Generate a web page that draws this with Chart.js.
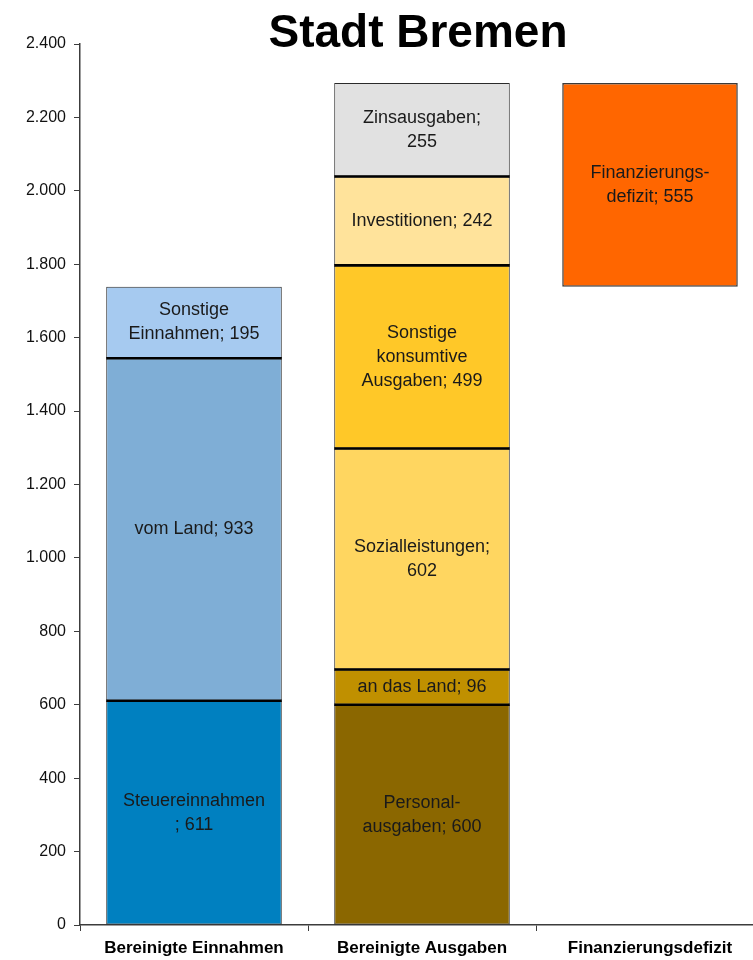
<!DOCTYPE html>
<html lang="de">
<head>
<meta charset="utf-8">
<title>Stadt Bremen</title>
<script src="https://cdn.jsdelivr.net/npm/chart.js@4.4.1/dist/chart.umd.min.js"></script>
<style>
  html, body { margin: 0; padding: 0; background: #fff; }
  #wrap { position: relative; width: 753px; height: 960px; overflow: hidden; }
  #title {
    position: absolute; left: 0; width: 836px; top: 4px;
    text-align: center; font: bold 46px "Liberation Sans", Arial, sans-serif; color: #000;
  }
</style>
</head>
<body>
<div id="wrap">
  <canvas id="chart" width="765" height="960"></canvas>
  <div id="title">Stadt Bremen</div>
</div>
<script>
// =============================
// Data
// =============================
const categories = ["Bereinigte Einnahmen", "Bereinigte Ausgaben", "Finanzierungsdefizit"];

const einnahmenValues = [611, 933, 195];
const einnahmenLabels = ["Steuereinnahmen\n; {v}", "vom Land; {v}", "Sonstige\nEinnahmen; {v}"];
const einnahmenColors = ["#0080c0", "#7faed6", "#a6caf0"];

const ausgabenValues = [600, 96, 602, 499, 242, 255];
const ausgabenLabels = [
  "Personal-\nausgaben; {v}",
  "an das Land; {v}",
  "Sozialleistungen;\n{v}",
  "Sonstige\nkonsumtive\nAusgaben; {v}",
  "Investitionen; {v}",
  "Zinsausgaben;\n{v}"
];
const ausgabenColors = ["#8b6700", "#c09000", "#ffd660", "#ffc828", "#ffe39b", "#e1e1e1"];

const defizitValue = 555;
const defizitLabel = "Finanzierungs-\ndefizit; {v}";
const defizitColor = "#ff6600";

const yTicks = { min: 0, max: 2400, step: 200 };

// =============================
// Datasets
// =============================
function segment(catIndex, value, label, color) {
  const data = categories.map(() => null);
  data[catIndex] = value;
  return {
    data,
    segLabel: label,
    backgroundColor: color,
    borderColor: "#2a2a2a",
    borderWidth: 1,
    borderSkipped: false,
    barPercentage: 0.77,
    categoryPercentage: 1
  };
}

const datasets = [];
einnahmenValues.forEach((v, i) => datasets.push(segment(0, v, einnahmenLabels[i], einnahmenColors[i])));
ausgabenValues.forEach((v, i) => datasets.push(segment(1, v, ausgabenLabels[i], ausgabenColors[i])));

// deficit floats on top of total revenue
const einnahmenTotal = einnahmenValues.reduce((a, b) => a + b, 0);
const defizit = segment(2, [einnahmenTotal, einnahmenTotal + defizitValue], defizitLabel, defizitColor);
defizit.borderColor = "#3a3a3a";
defizit.borderWidth = 1.5;
datasets.push(defizit);

// =============================
// Separators + segment labels
// =============================
const segmentLabels = {
  id: "segmentLabels",
  afterDatasetsDraw(chart) {
    const ctx = chart.ctx;
    const bottom = chart.chartArea.bottom;
    ctx.save();

    // thick black line where two stacked segments meet
    ctx.strokeStyle = "#000";
    ctx.lineWidth = 2.6;
    chart.data.datasets.forEach((ds, di) => {
      chart.getDatasetMeta(di).data.forEach((bar, i) => {
        const raw = ds.data[i];
        if (raw === null || Array.isArray(raw)) return;
        if (Math.abs(bar.base - bottom) < 1) return;
        ctx.beginPath();
        ctx.moveTo(bar.x - bar.width / 2, bar.base);
        ctx.lineTo(bar.x + bar.width / 2, bar.base);
        ctx.stroke();
      });
    });

    ctx.font = '18px "Liberation Sans", Arial, sans-serif';
    ctx.fillStyle = "#1a1a1a";
    ctx.textAlign = "center";
    ctx.textBaseline = "middle";
    chart.data.datasets.forEach((ds, di) => {
      chart.getDatasetMeta(di).data.forEach((bar, i) => {
        const raw = ds.data[i];
        if (raw === null) return;
        const value = Array.isArray(raw) ? raw[1] - raw[0] : raw;
        const lines = ds.segLabel.replace("{v}", value).split("\n");
        const cy = (bar.y + bar.base) / 2;
        const lh = 24;
        lines.forEach((line, k) => {
          ctx.fillText(line, bar.x, cy + (k - (lines.length - 1) / 2) * lh);
        });
      });
    });
    ctx.restore();
  }
};

function formatDe(v) {
  return v.toString().replace(/\B(?=(\d{3})+(?!\d))/g, ".");
}

// =============================
// Chart
// =============================
new Chart(document.getElementById("chart"), {
  type: "bar",
  data: { labels: categories, datasets },
  plugins: [segmentLabels],
  options: {
    responsive: false,
    animation: false,
    layout: { padding: { top: 44, right: 1, left: 0, bottom: 0 } },
    plugins: { legend: { display: false }, tooltip: { enabled: false }, title: { display: false } },
    scales: {
      x: {
        stacked: true,
        afterFit: (s) => { s.height = 35; },
        border: { color: "#3c3c3c", width: 1.5 },
        grid: { drawOnChartArea: false, drawTicks: true, tickLength: 6, color: "#3c3c3c", offset: true },
        ticks: {
          color: "#000",
          padding: 7,
          font: { family: '"Liberation Sans", Arial, sans-serif', size: 17, weight: "bold" }
        }
      },
      y: {
        stacked: true,
        min: yTicks.min,
        max: yTicks.max,
        afterFit: (s) => { s.width = 80; },
        border: { color: "#3c3c3c", width: 1.5 },
        grid: { drawOnChartArea: false, drawTicks: true, tickLength: 6, color: "#3c3c3c" },
        ticks: {
          stepSize: yTicks.step,
          color: "#111",
          padding: 8,
          font: { family: '"Liberation Sans", Arial, sans-serif', size: 16 },
          callback: (v) => formatDe(v)
        }
      }
    }
  }
});
</script>
</body>
</html>
